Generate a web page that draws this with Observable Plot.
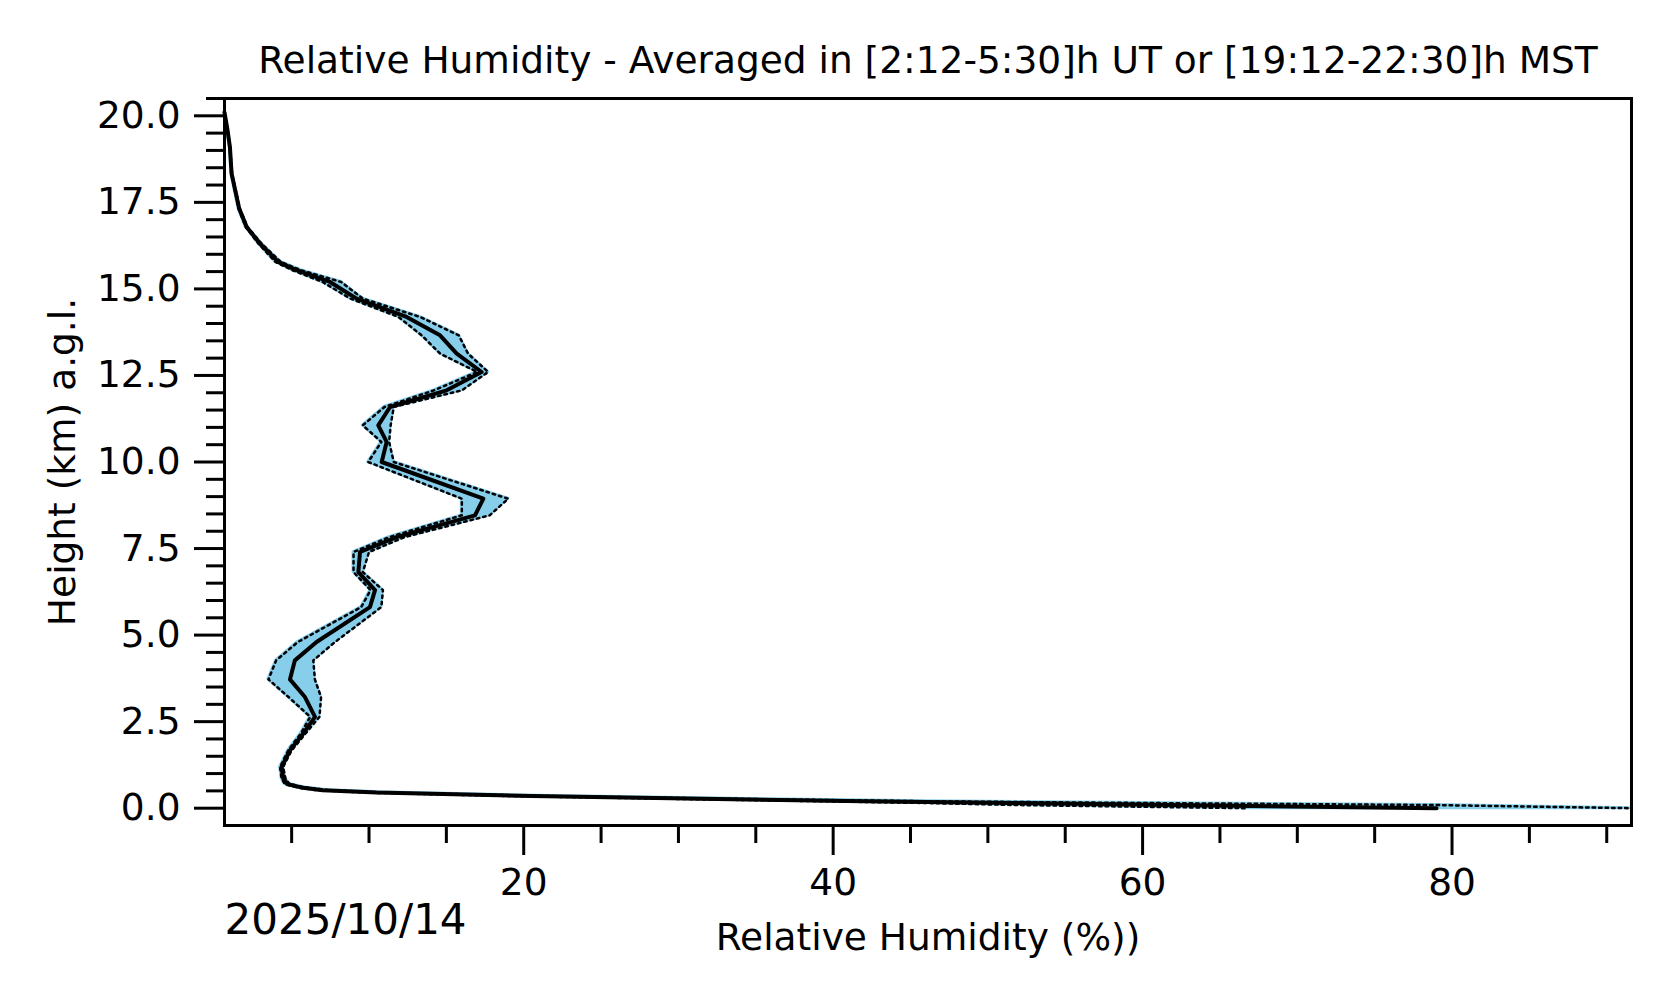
<!DOCTYPE html>
<html>
<head>
<meta charset="utf-8">
<script src="https://cdn.jsdelivr.net/npm/d3@7"></script>
<script src="https://cdn.jsdelivr.net/npm/@observablehq/plot@0.6"></script>
<style>
  html, body { margin: 0; padding: 0; background: #fff; }
  #chart svg { display: block; }
</style>
</head>
<body>
<div id="chart"></div>
<script>
// ---- data ----
const titleText = "Relative Humidity - Averaged in [2:12-5:30]h UT or [19:12-22:30]h MST";
const dateText = "2025/10/14";
const xLabel = "Relative Humidity (%))";
const yLabel = "Height (km) a.g.l.";

const heights = [20.1, 19.6, 19.1, 18.33, 17.32, 16.79, 16.31, 15.78, 15.54, 15.2, 14.72, 14.19, 13.66, 13.13, 12.6, 12.07, 11.59, 11.06, 10.58, 10.0, 8.94, 8.46, 7.83, 7.4, 6.82, 6.3, 5.81, 4.8, 4.27, 3.72, 3.21, 2.64, 2.16, 1.67, 1.19, 0.86, 0.7, 0.6, 0.52, 0.45, 0.4, 0.35, 0.3, 0.25, 0.2, 0.15, 0.09, 0.0];
const rhMean = [0.66, 0.85, 1.01, 1.12, 1.61, 2.09, 2.95, 4.13, 5.32, 7.48, 9.2, 12.43, 14.59, 15.67, 17.28, 15.02, 11.36, 10.6, 11.14, 10.82, 17.39, 16.85, 11.79, 9.42, 9.31, 10.39, 10.06, 6.61, 5.21, 4.89, 5.86, 6.51, 5.75, 4.89, 4.35, 4.46, 4.7, 5.6, 7.0, 10.5, 15.5, 20.5, 27.5, 34.5, 42, 51.6, 62, 79];
const rhLow = [0.66, 0.84, 1.0, 1.1, 1.57, 2.03, 2.85, 3.95, 5.05, 7.0, 8.8, 11.9, 13.4, 14.6, 17.0, 14.2, 11.0, 9.6, 10.8, 9.95, 16.0, 16.0, 11.3, 9.0, 9.0, 10.1, 9.5, 5.4, 4.0, 3.5, 4.8, 6.2, 5.6, 4.78, 4.25, 4.35, 4.55, 5.35, 6.6, 9.8, 14.5, 19.2, 25.8, 32.3, 39.3, 46, 52, 66.7];
const rhHigh = [0.66, 0.86, 1.02, 1.15, 1.65, 2.15, 3.05, 4.3, 5.6, 8.2, 9.6, 13.3, 15.8, 16.4, 17.7, 16.0, 11.6, 11.4, 11.3, 11.6, 19.0, 17.8, 12.3, 10.0, 9.6, 10.9, 10.8, 7.8, 6.4, 6.5, 6.9, 6.8, 5.9, 5.0, 4.45, 4.6, 4.85, 5.85, 7.4, 11.2, 16.5, 21.8, 29.2, 37, 46, 60, 79, 91.6];

const xMajorTicks = [20, 40, 60, 80];
const xMinorTicks = [5, 10, 15, 25, 30, 35, 45, 50, 55, 65, 70, 75, 85, 90];
const yMajorTicks = [0, 2.5, 5, 7.5, 10, 12.5, 15, 17.5, 20];
const yMinorTicks = [0.5, 1, 1.5, 2, 3, 3.5, 4, 4.5, 5.5, 6, 6.5, 7, 8, 8.5, 9, 9.5, 10.5, 11, 11.5, 12, 13, 13.5, 14, 14.5, 15.5, 16, 16.5, 17, 18, 18.5, 19, 19.5, 20.5];

const xDomain = [0.66, 91.6];
const yDomain = [-0.5, 20.5];

// ---- build table ----
const rows = heights.map((h, i) => ({h, mean: rhMean[i], low: rhLow[i], high: rhHigh[i]}));

const FONT = "DejaVu Sans";
const FS = 37.5;
const sky = "#87CEEB";

const chart = Plot.plot({
  width: 1676,
  height: 1003,
  marginLeft: 224,
  marginRight: 45,
  marginTop: 98,
  marginBottom: 178,
  style: {fontFamily: FONT, color: "black", background: "white"},
  x: {domain: xDomain},
  y: {domain: yDomain},
  marks: [
    Plot.areaX(rows, {y: "h", x1: "low", x2: "high", fill: sky, stroke: sky, strokeWidth: 3}),
    Plot.line(rows, {x: "low", y: "h", stroke: "black", strokeWidth: 2.5, strokeDasharray: "2.5,4"}),
    Plot.line(rows, {x: "high", y: "h", stroke: "black", strokeWidth: 2.5, strokeDasharray: "2.5,4"}),
    Plot.line(rows, {x: "mean", y: "h", stroke: "black", strokeWidth: 4, strokeLinejoin: "round"}),
    Plot.frame({stroke: "black", strokeWidth: 3}),
    Plot.axisY(yMinorTicks, {tickSize: 18, strokeWidth: 3, tickFormat: () => "", label: null}),
    Plot.axisY(yMajorTicks, {tickSize: 30, strokeWidth: 3, tickPadding: 14, fontSize: FS,
      tickFormat: d3.format(".1f"), label: yLabel, labelAnchor: "center", labelArrow: "none", labelOffset: 176}),
    Plot.axisX(xMinorTicks, {tickSize: 18, strokeWidth: 3, tickFormat: () => "", label: null}),
    Plot.axisX(xMajorTicks, {tickSize: 30, strokeWidth: 3, tickPadding: 13, fontSize: FS,
      tickFormat: d3.format("d"), label: xLabel, labelAnchor: "center", labelArrow: "none", labelOffset: 124}),
    Plot.text([titleText], {frameAnchor: "top", lineAnchor: "bottom", dy: -26, fontSize: FS, fill: "black"}),
    Plot.text([dateText], {frameAnchor: "bottom-left", textAnchor: "start", lineAnchor: "bottom", dy: 108, dx: 0, fontSize: 42, fill: "black"})
  ]
});

document.getElementById("chart").appendChild(chart);
</script>
</body>
</html>
